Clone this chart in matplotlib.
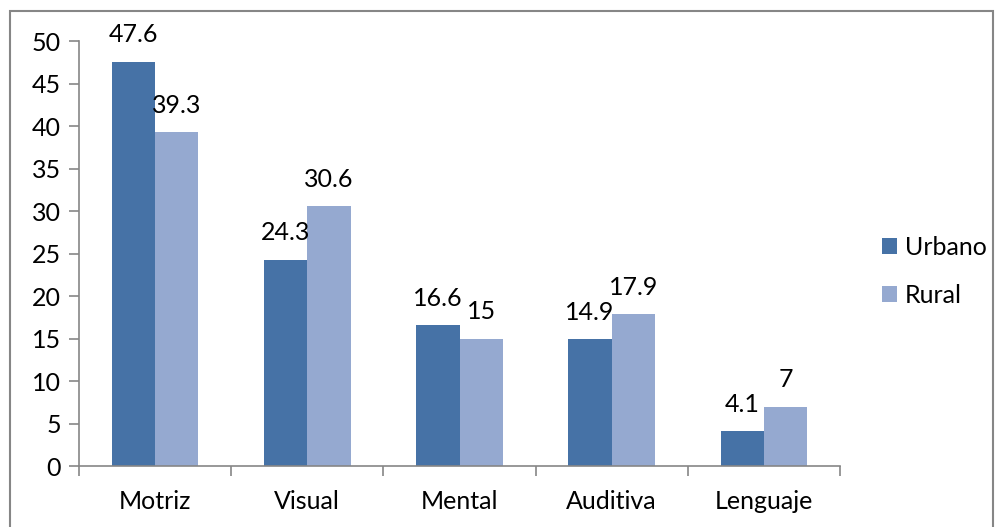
import matplotlib
matplotlib.use("Agg")
import matplotlib.pyplot as plt
import matplotlib.patches as mpatches
import numpy as np

categories = ["Motriz", "Visual", "Mental", "Auditiva", "Lenguaje"]
urbano = [47.6, 24.3, 16.6, 14.9, 4.1]
rural = [39.3, 30.6, 15, 17.9, 7]
urbano_labels = ["47.6", "24.3", "16.6", "14.9", "4.1"]
rural_labels = ["39.3", "30.6", "15", "17.9", "7"]
yticks = [0, 5, 10, 15, 20, 25, 30, 35, 40, 45, 50]

plt.rcParams['font.family'] = ['Lato', 'DejaVu Sans']

c_urb = "#4672A6"
c_rur = "#95A9D0"
gray = "#868686"
fs = 18

fig = plt.figure(figsize=(10, 5.27), dpi=100)
ax = fig.add_axes([0.079, 0.1157, 0.761, 0.8063])

# figure border
fig.patches.append(mpatches.Rectangle((0.010, -0.01), 0.983, 0.989, transform=fig.transFigure,
                                      fill=False, edgecolor=gray, linewidth=1.5))

x = np.arange(len(categories))
w = 0.285
b1 = ax.bar(x - w/2, urbano, w, color=c_urb, label="Urbano")
b2 = ax.bar(x + w/2, rural, w, color=c_rur, label="Rural")

for bars, labs in ((b1, urbano_labels), (b2, rural_labels)):
    for rect, lab in zip(bars, labs):
        ax.annotate(lab, (rect.get_x() + rect.get_width()/2, rect.get_height()),
                    xytext=(0, 11), textcoords="offset points", ha="center", va="bottom",
                    fontsize=fs, color="black")

ax.set_xlim(-0.5, len(categories) - 0.5)
ax.set_ylim(0, 50)
ax.set_yticks(yticks)
ax.set_yticklabels([str(t) for t in yticks], fontsize=fs)
ax.set_xticks(x)
ax.set_xticklabels(categories, fontsize=fs)
ax.tick_params(axis='x', length=0, pad=17)
ax.set_xticks(np.arange(-0.5, len(categories)), minor=True)
ax.tick_params(axis='x', which='minor', length=7, color=gray, width=1.2, direction='out')
ax.tick_params(axis='y', length=7, color=gray, width=1.2, direction='out', pad=6)

for s in ("top", "right"):
    ax.spines[s].set_visible(False)
for s in ("left", "bottom"):
    ax.spines[s].set_color(gray)
    ax.spines[s].set_linewidth(1.2)

fig.legend(handles=[b1, b2], labels=["Urbano", "Rural"], loc="center left",
           bbox_to_anchor=(0.882, 0.485), frameon=False, fontsize=fs, borderpad=0,
           borderaxespad=0, handlelength=0.6, handleheight=0.6, handletextpad=0.32,
           labelspacing=1.0)

fig.savefig("out.png", dpi=100)
